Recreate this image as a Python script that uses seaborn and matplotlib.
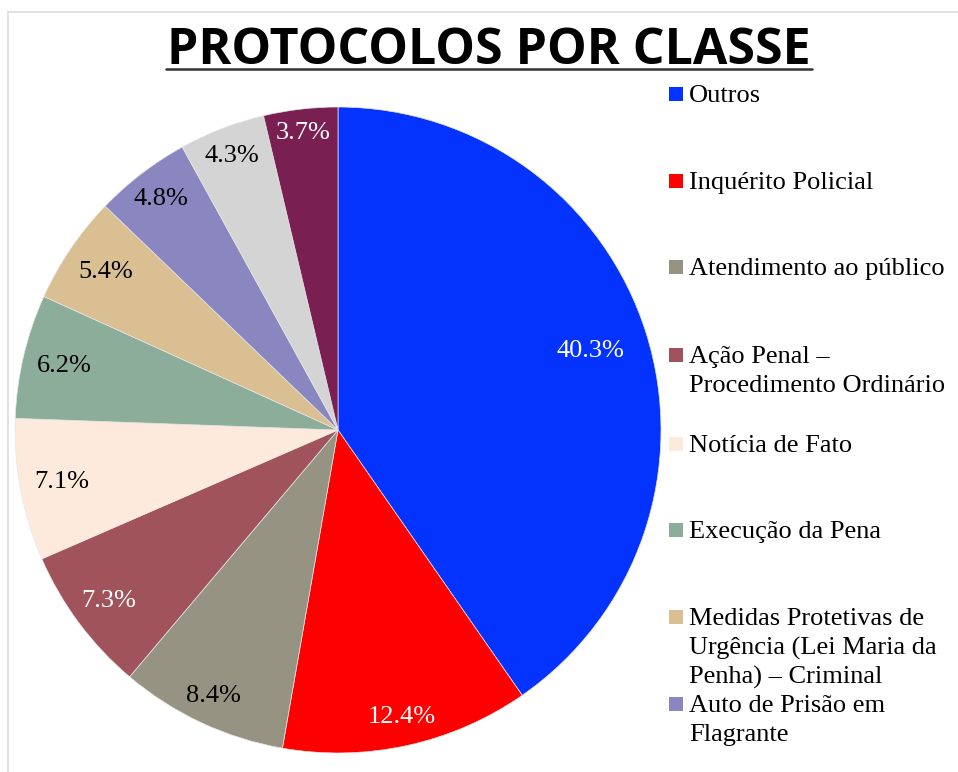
import numpy as np
import matplotlib
matplotlib.use("Agg")
import matplotlib.pyplot as plt
import seaborn as sns
from matplotlib.patches import Rectangle
from matplotlib.lines import Line2D

# ---- data ----
categories = [
    "Outros",
    "Inquérito Policial",
    "Atendimento ao público",
    "Ação Penal –\nProcedimento Ordinário",
    "Notícia de Fato",
    "Execução da Pena",
    "Medidas Protetivas de\nUrgência (Lei Maria da\nPenha) – Criminal",
    "Auto de Prisão em\nFlagrante",
    "Classe 9",
    "Classe 10",
]
values = [40.3, 12.4, 8.4, 7.3, 7.1, 6.2, 5.4, 4.8, 4.3, 3.7]
legend_shown = 8  # the legend in the original is cut after 8 entries

# ---- style ----
colors = ["#0433FF", "#FF0000", "#969382", "#A0535A", "#FDEADC",
          "#8CAD9A", "#D9BF92", "#8A86C0", "#D4D4D4", "#7A1F52"]
label_colors = ["white", "white", "black", "white", "black",
                "black", "black", "black", "black", "white"]
label_radius = [0.82, 0.91, 0.91, 0.885, 0.87, 0.87, 0.87, 0.90, 0.91, 0.925]
legend_baseline = [102, 189, 275, 363, 452, 538, 625, 712]  # px, first line of each entry
line_pitch = 29.5

sns.set_theme(style="white")
plt.rcParams["font.family"] = ["Liberation Serif", "DejaVu Serif"]

W, H = 958, 772
fig = plt.figure(figsize=(W / 100, H / 100), dpi=100)
fig.patch.set_facecolor("white")

# pie axes: center (338, 430) px, radius 323 px
cx, cy, R = 338, 430, 323
ax = fig.add_axes([(cx - R) / W, (H - cy - R) / H, 2 * R / W, 2 * R / H])
wedges, _ = ax.pie(values, colors=colors, startangle=90, counterclock=False,
                   radius=1.0, wedgeprops=dict(edgecolor="#e6e6e6", linewidth=0.5))
ax.set_xlim(-1, 1)
ax.set_ylim(-1, 1)
ax.set_aspect("equal")
ax.axis("off")

fs = 19
for w, v, c, r in zip(wedges, values, label_colors, label_radius):
    mid = np.deg2rad((w.theta1 + w.theta2) / 2)
    ax.text(r * np.cos(mid), r * np.sin(mid), f"{v:.1f}%", ha="center", va="center",
            fontsize=fs, color=c)

# legend (manual, to follow the original spacing)
for i in range(legend_shown):
    yb = legend_baseline[i]
    fig.patches.append(Rectangle((669 / W, (H - yb + 1) / H), 14 / W, 14 / H,
                                 transform=fig.transFigure, facecolor=colors[i],
                                 edgecolor="none"))
    for k, line in enumerate(categories[i].split("\n")):
        fig.text(689 / W, (H - yb - k * line_pitch) / H, line, fontsize=fs, ha="left",
                 va="baseline", color="black")

# title
fig.text(489 / W, (H - 64) / H, "PROTOCOLOS POR CLASSE", ha="center", va="baseline",
         fontsize=36, fontweight="bold", family=["Open Sans", "DejaVu Sans"], color="black")
fig.add_artist(Line2D([166 / W, 812 / W], [(H - 68.5) / H] * 2, transform=fig.transFigure,
                      color="#333333", linewidth=1.8))

# frame lines
fig.add_artist(Line2D([8 / W, 1.0], [(H - 12) / H] * 2, transform=fig.transFigure,
                      color="#dddddd", linewidth=1.2))
fig.add_artist(Line2D([8 / W, 8 / W], [0, (H - 12) / H], transform=fig.transFigure,
                      color="#dddddd", linewidth=1.2))

fig.savefig("out.png", dpi=100, facecolor="white")
